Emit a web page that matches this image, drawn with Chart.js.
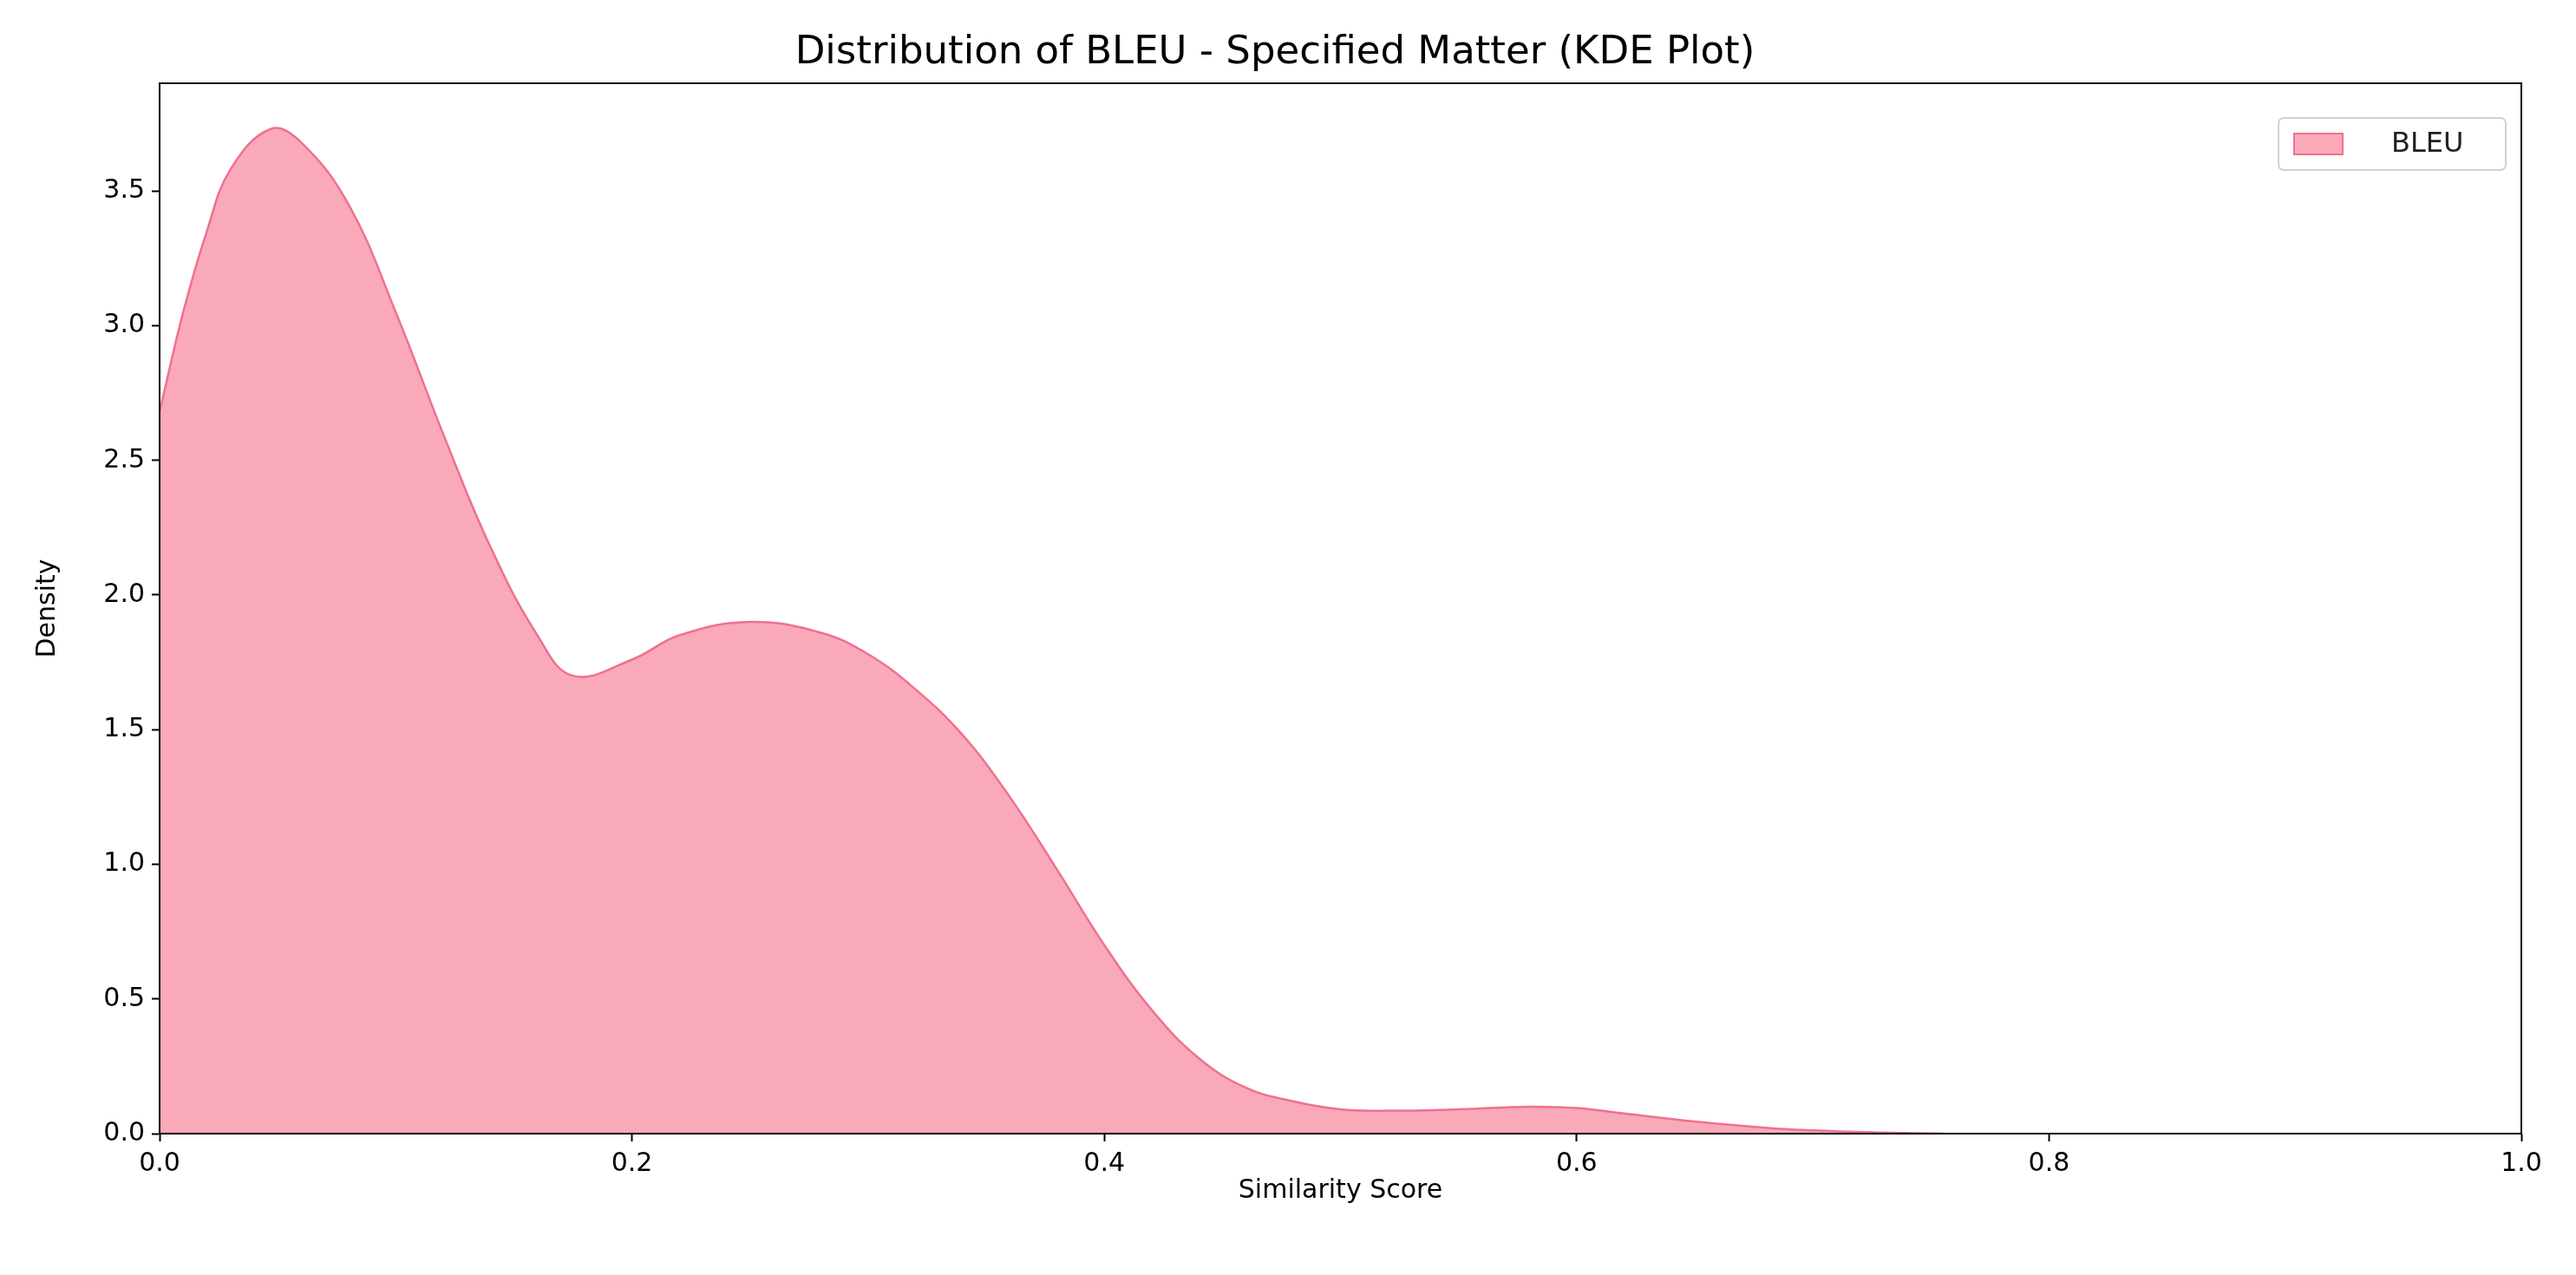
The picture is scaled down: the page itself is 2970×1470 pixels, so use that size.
<!DOCTYPE html>
<html>
<head>
<meta charset="utf-8">
<script src="https://cdn.jsdelivr.net/npm/chart.js@4"></script>
<style>
  html, body { margin: 0; padding: 0; background: #fff; }
  #wrap { width: 2970px; height: 1470px; }
</style>
</head>
<body>
<div id="wrap"><canvas id="kdeChart"></canvas></div>
<script>
// KDE curve
const scoreX = [0, 0.01, 0.02, 0.03, 0.047, 0.06, 0.08, 0.1, 0.12, 0.14, 0.16, 0.175, 0.2, 0.22, 0.25, 0.28, 0.3, 0.32, 0.34, 0.36, 0.38, 0.4, 0.42, 0.44, 0.46, 0.48, 0.5, 0.52, 0.55, 0.58, 0.6, 0.62, 0.65, 0.68, 0.7, 0.73, 0.755];
const density = [2.68, 3.05, 3.35, 3.58, 3.73, 3.68, 3.45, 3.05, 2.6, 2.18, 1.85, 1.70, 1.76, 1.85, 1.90, 1.86, 1.78, 1.65, 1.48, 1.25, 0.98, 0.70, 0.46, 0.28, 0.17, 0.12, 0.09, 0.085, 0.09, 0.10, 0.095, 0.075, 0.045, 0.022, 0.012, 0.004, 0.0];
const xTicks = [0, 0.2, 0.4, 0.6, 0.8, 1.0];
const yTicks = [0, 0.5, 1.0, 1.5, 2.0, 2.5, 3.0, 3.5];

const FILL = 'rgba(248, 160, 178, 0.9)';
const EDGE = '#f0708f';
const FONT = 'DejaVu Sans';

const legendBox = {
    id: 'legendBox',
    afterDraw(chart) {
        const { ctx, chartArea } = chart;
        const w = 262, h = 60;
        const x = chartArea.right - w - 18, y = chartArea.top + 40;
        ctx.save();
        ctx.fillStyle = 'rgba(255,255,255,0.8)';
        ctx.strokeStyle = '#d0d0d0';
        ctx.lineWidth = 2;
        ctx.beginPath();
        ctx.roundRect(x, y, w, h, 6);
        ctx.fill();
        ctx.stroke();
        ctx.fillStyle = FILL;
        ctx.strokeStyle = EDGE;
        ctx.fillRect(x + 18, y + 18, 56, 24);
        ctx.strokeRect(x + 18, y + 18, 56, 24);
        ctx.fillStyle = '#222';
        ctx.font = '32px "' + FONT + '"';
        ctx.textBaseline = 'middle';
        ctx.fillText('BLEU', x + 130, y + 31);
        ctx.restore();
    }
};

const frame = {
    id: 'frame',
    afterDatasetsDraw(chart) {
        const { ctx, chartArea: a } = chart;
        ctx.save();
        ctx.strokeStyle = '#000';
        ctx.lineWidth = 2;
        ctx.strokeRect(a.left, a.top, a.right - a.left, a.bottom - a.top);
        ctx.restore();
    }
};

const tickGrid = { display: true, drawOnChartArea: false, drawTicks: true, tickLength: 9, tickColor: '#000', tickWidth: 2 };

new Chart(document.getElementById('kdeChart'), {
    type: 'line',
    data: {
        datasets: [{
            label: 'BLEU',
            data: scoreX.map((x, i) => ({ x, y: density[i] })),
            borderColor: EDGE,
            backgroundColor: FILL,
            borderWidth: 2.5,
            pointRadius: 0,
            fill: 'origin',
            tension: 0.4
        }]
    },
    options: {
        responsive: true,
        maintainAspectRatio: false,
        devicePixelRatio: 1,
        animation: false,
        layout: { padding: { top: 0, right: 63, bottom: 75, left: 33 } },
        plugins: {
            legend: { display: false },
            tooltip: { enabled: false },
            title: {
                display: true,
                text: 'Distribution of BLEU - Specified Matter (KDE Plot)',
                color: '#000',
                font: { family: FONT, size: 45, weight: 'normal' },
                padding: { top: 34, bottom: 8 }
            }
        },
        scales: {
            x: {
                type: 'linear',
                min: 0, max: 1,
                afterBuildTicks: s => { s.ticks = xTicks.map(v => ({ value: v })); },
                afterFit: s => { s.height = 88; },
                grid: tickGrid,
                border: { color: '#000', width: 2 },
                ticks: { color: '#000', font: { family: FONT, size: 30 }, padding: 8, maxRotation: 0,
                         callback: v => v.toFixed(1) },
                title: { display: true, text: 'Similarity Score', color: '#000',
                         font: { family: FONT, size: 30 }, padding: { top: 8 } }
            },
            y: {
                min: 0, max: 3.9,
                afterBuildTicks: s => { s.ticks = yTicks.map(v => ({ value: v })); },
                afterFit: s => { s.width = 151; },
                grid: tickGrid,
                border: { color: '#000', width: 2 },
                ticks: { color: '#000', font: { family: FONT, size: 30 }, padding: 8,
                         callback: v => v.toFixed(1) },
                title: { display: true, text: 'Density', color: '#000',
                         font: { family: FONT, size: 30 }, padding: { bottom: 6 } }
            }
        }
    },
    plugins: [legendBox, frame]
});
</script>
</body>
</html>
